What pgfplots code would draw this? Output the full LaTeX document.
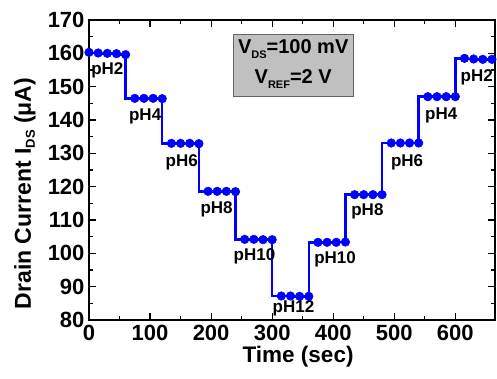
\documentclass[border=0pt]{standalone}
\usepackage{pgfplots}
\pgfplotsset{compat=1.18}
\usepackage{fontspec}
\setmainfont{Liberation Sans}
\begin{document}
\begin{tikzpicture}
\begin{axis}[
  scale only axis,
  width=406pt, height=300pt,
  xmin=0, xmax=665, ymin=80, ymax=170,
  xtick={0,100,...,600}, ytick={80,90,...,170},
  minor x tick num=1, minor y tick num=1,
  tick align=inside,
  major tick length=7pt, minor tick length=4pt,
  every tick/.style={black, line width=1.2pt},
  axis line style={line width=1.6pt},
  /pgf/number format/assume math mode=true,
  ticklabel style={font=\fontsize{22}{22}\selectfont\bfseries},
  xticklabel style={yshift=-2pt},
  yticklabel style={xshift=-1pt},
  xlabel={\fontsize{22.5}{22.5}\selectfont\bfseries Time (sec)},
  ylabel={\fontsize{23}{23}\selectfont\bfseries Drain Current I\raisebox{-4pt}{\fontsize{13}{13}\selectfont DS} (μA)},
  xlabel style={at={([yshift=-37pt]axis description cs:0.515,0)}, anchor=center},
  ylabel style={at={([xshift=-64pt]axis description cs:0,0.4217)}, anchor=center},
  clip=false,
]
\addplot[const plot mark right, blue, line width=2.4pt, mark=*, mark size=4.3pt, mark options={fill=blue, line width=0.5pt}]
coordinates {
(0,160.3) (15,160.1) (30,160.0) (45,159.9) (60,159.6)
(75,146.5) (90,146.5) (105,146.5) (120,146.4)
(135,133.0) (150,133.0) (165,133.0) (180,132.9)
(195,118.6) (210,118.6) (225,118.6) (240,118.5)
(255,104.2) (270,104.2) (285,104.1) (300,104.1)
(315,87.2) (330,87.2) (345,87.1) (360,87.1)
(375,103.3) (390,103.3) (405,103.3) (420,103.4)
(435,117.6) (450,117.6) (465,117.6) (480,117.6)
(495,133.1) (510,133.1) (525,133.1) (540,133.1)
(555,147.0) (570,147.0) (585,147.0) (600,147.0)
(615,158.5) (630,158.3) (645,158.2) (660,158.2)
};
\tikzset{phl/.style={font=\fontsize{17}{17}\selectfont\bfseries}}
\node[phl] at (axis cs:30,155) {pH2};
\node[phl] at (axis cs:92,141) {pH4};
\node[phl] at (axis cs:152,127.3) {pH6};
\node[phl] at (axis cs:209,113.2) {pH8};
\node[phl] at (axis cs:271,99) {pH10};
\node[phl] at (axis cs:335,83.5) {pH12};
\node[phl] at (axis cs:403,98.3) {pH10};
\node[phl] at (axis cs:456,112.5) {pH8};
\node[phl] at (axis cs:521,127.3) {pH6};
\node[phl] at (axis cs:577,141.5) {pH4};
\node[phl] at (axis cs:635,152.7) {pH2};
\draw[fill={rgb,255:red,192;green,192;blue,192}, draw={rgb,255:red,100;green,100;blue,100}, line width=0.8pt]
  (axis cs:236,165.6) rectangle (axis cs:433,147.2);
\node[font=\fontsize{20}{20}\selectfont\bfseries] at (axis cs:334.5,161.3) {V\raisebox{-5pt}{\fontsize{11}{11}\selectfont DS}=100 mV};
\node[font=\fontsize{20}{20}\selectfont\bfseries] at (axis cs:334.5,152.2) {V\raisebox{-5pt}{\fontsize{11}{11}\selectfont REF}=2 V};
\path (rel axis cs:0,0) ++(-89pt,-59pt) coordinate (bbA);
\path (rel axis cs:1,1) ++(2pt,20pt) coordinate (bbB);
\end{axis}
\useasboundingbox (bbA) rectangle (bbB);
\end{tikzpicture}
\end{document}
